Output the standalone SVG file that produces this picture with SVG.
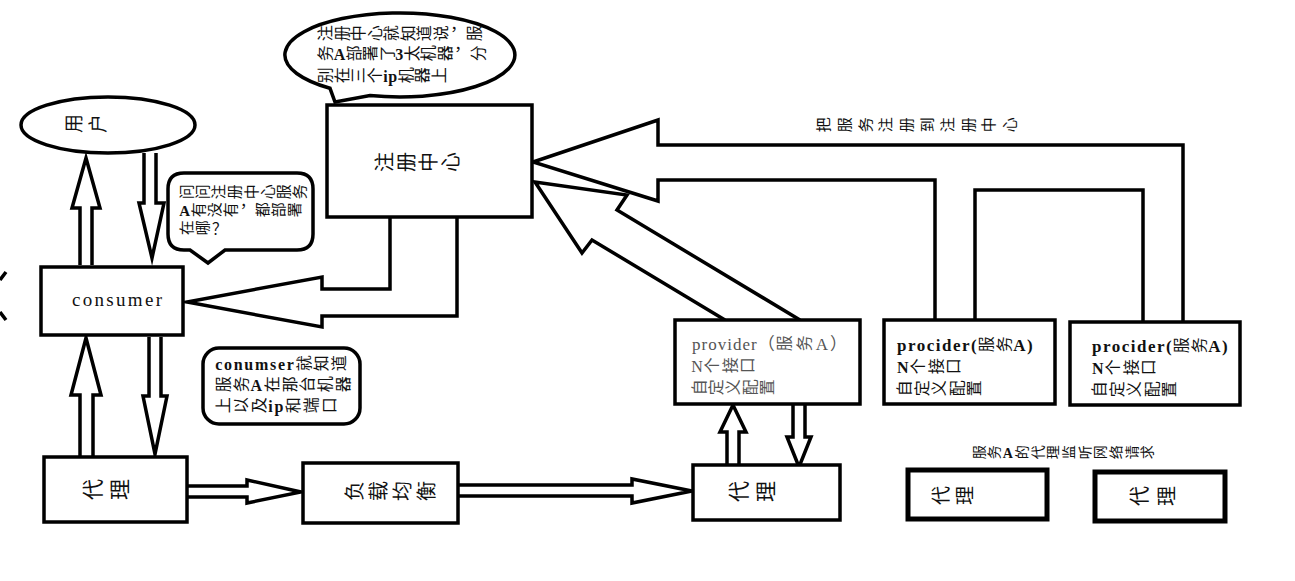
<svg xmlns="http://www.w3.org/2000/svg" width="1295" height="581" viewBox="0 0 1295 581">
<style>
.s{fill:none;stroke:#000;stroke-width:3.5;stroke-linejoin:miter;stroke-miterlimit:10}
.b{fill:#fff;stroke:#000;stroke-width:3.5}
.bt{fill:#fff;stroke:#000;stroke-width:5}
.t{font-family:"Liberation Serif","Noto Sans CJK SC",serif;fill:#111}
.g{fill:#555}
.bd{font-weight:bold}
</style>
<rect width="1295" height="581" fill="#fff"/>

<g id="connectors">
  <polyline class="s" points="80,265 80,208 72,208 86,158 100,208 92,208 92,265"/>
  <polyline class="s" points="144,153 144,203 139,203 152,258 164,203 156,203 156,153"/>
  <polyline class="s" points="80,457 80,395 71,395 86,338 101,395 93,395 93,457"/>
  <polyline class="s" points="149,337 149,396 143,396 155,454 167,396 161,396 161,337"/>
  <polyline class="s" points="187,486 247,486 247,480 301,492 247,503 247,497 187,497"/>
  <polyline class="s" points="458,485 632,485 632,479 692,491 632,503 632,496 458,496"/>
  <polyline class="s" points="727,465 727,432 720,432 733,405 746,432 739,432 739,465"/>
  <polyline class="s" points="793,405 793,437 787,437 799,467 811,437 805,437 805,405"/>
  <polyline class="s" points="390,217 390,289 322,289 322,277 187,302 322,327 322,316 457,316 457,217"/>
  <polyline class="s" points="1183,322 1183,145 658,145 658,120 533,162 658,201 658,180 935,180 935,320"/>
  <polyline class="s" points="975,320 975,190 1143,190 1143,322"/>
  <polyline class="s" points="725,320 592,240 582,253 535,182 627,195 617,210 800,320"/>
  <text class="t" font-size="15" letter-spacing="5.6" x="829.5" y="132.3" rotate="-90">把服务注册到注册中心</text>
</g>

<g id="fragment">
  <path class="s" d="M0,280 L6,272 M0,312 L6,320" stroke-width="3"/>
</g>

<g id="user">
  <ellipse class="b" cx="108" cy="125" rx="87" ry="28"/>
  <text class="t" font-size="19" letter-spacing="5" x="80.8" y="133" rotate="-90">用户</text>
</g>

<g id="note-registry">
  <path class="b" d="M330,88.3 A115,42 0 1,1 370,95.5 L335,102 Z"/>
  <text class="t" font-size="16" letter-spacing="0.5" x="331.3"><tspan y="41.2" rotate="-90">注册中心就知道说</tspan><tspan dx="-13.3" y="30" rotate="0">，</tspan><tspan dx="13.3" y="41.2" rotate="-90">服</tspan></text>
  <text class="t" font-size="16" letter-spacing="0.5" x="317.2"><tspan dx="14.1" y="61.2" rotate="-90">务</tspan><tspan dx="-14.1" y="59.6" rotate="0" class="bd">A</tspan><tspan dx="14.1" y="61.2" rotate="-90">部署了</tspan><tspan dx="-14.1" y="59.6" rotate="0" class="bd">3</tspan><tspan dx="14.1" y="61.2" rotate="-90">太机器</tspan><tspan dx="-13.3" y="50" rotate="0">，</tspan><tspan dx="13.3" y="61.2" rotate="-90">分</tspan></text>
  <text class="t" font-size="16" letter-spacing="0.5" x="317.2"><tspan dx="14.1" y="83.2" rotate="-90">别在三个</tspan><tspan dx="-14.1" y="81.6" rotate="0" class="bd">ip</tspan><tspan dx="14.1" y="83.2" rotate="-90">机器上</tspan></text>
</g>

<g id="registry">
  <rect class="b" x="327" y="105" width="205" height="112"/>
  <text class="t" font-size="20" letter-spacing="2" x="391.6" y="172" rotate="-90">注册中心</text>
</g>

<g id="note-ask">
  <path class="b" d="M184,173 H297 Q313,173 313,189 V234 Q313,250 297,250 H225 L208,263 L190,250 H184 Q168,250 168,234 V189 Q168,173 184,173 Z"/>
  <text class="t" font-size="15" letter-spacing="1" x="192.45" y="199.25" rotate="-90">问问注册中心服务</text>
  <text class="t" font-size="15" letter-spacing="1" x="179.25"><tspan y="215.75" rotate="0" class="bd">A</tspan><tspan dx="13.2" y="217.25" rotate="-90">有没有</tspan><tspan dx="-12.45" y="206.75" rotate="0">，</tspan><tspan dx="12.45" y="217.25" rotate="-90">都部署</tspan></text>
  <text class="t" font-size="15" letter-spacing="1" x="192.45"><tspan y="235.25" rotate="-90">在哪</tspan><tspan dx="-12.45" y="234.2" rotate="0">？</tspan></text>
</g>

<g id="consumer">
  <rect class="b" x="41" y="267" width="142" height="68"/>
  <text class="t" font-size="19" letter-spacing="2.3" x="72" y="306">consumer</text>
</g>

<g id="note-consumer">
  <rect class="b" x="203" y="348" width="157" height="76" rx="16"/>
  <text class="t" font-size="16" letter-spacing="1.7" x="215.2"><tspan y="369.6" rotate="0" class="bd">conumser</tspan><tspan dx="14.1" y="371.2" rotate="-90">就知道</tspan></text>
  <text class="t" font-size="16" letter-spacing="1.7" x="215.2"><tspan dx="14.1" y="392.2" rotate="-90">服务</tspan><tspan dx="-14.1" y="390.6" rotate="0" class="bd">A</tspan><tspan dx="14.1" y="392.2" rotate="-90">在那台机器</tspan></text>
  <text class="t" font-size="16" letter-spacing="1.7" x="215.2"><tspan dx="14.1" y="413.2" rotate="-90">上以及</tspan><tspan dx="-14.1" y="411.6" rotate="0" class="bd">ip</tspan><tspan dx="14.1" y="413.2" rotate="-90">和端口</tspan></text>
</g>

<g id="proxy-consumer">
  <rect class="b" x="44" y="457" width="143" height="65"/>
  <text class="t" font-size="21" letter-spacing="6" x="100.4" y="500" rotate="-90">代理</text>
</g>

<g id="load-balance">
  <rect class="b" x="303" y="463" width="155" height="60"/>
  <text class="t" font-size="20" letter-spacing="4" x="361.6" y="501" rotate="-90">负载均衡</text>
</g>

<g id="proxy-provider">
  <rect class="b" x="693" y="465" width="147" height="55"/>
  <text class="t" font-size="21" letter-spacing="6" x="746.4" y="502" rotate="-90">代理</text>
</g>

<g id="provider">
  <rect class="b" x="675" y="320" width="185" height="84"/>
  <text class="t g" font-size="17" letter-spacing="1" x="692"><tspan y="349.6" rotate="0">provider</tspan><tspan y="349.6" rotate="0">（</tspan><tspan dx="14.1" y="351.2" rotate="-90" font-size="16" letter-spacing="4">服务</tspan><tspan dx="-14.1" y="349.6" rotate="0" letter-spacing="2">A）</tspan></text>
  <text class="t g" font-size="16" letter-spacing="1.5" x="691.2"><tspan y="371.6" rotate="0">N</tspan><tspan dx="14.1" y="373.2" rotate="-90">个接口</tspan></text>
  <text class="t g" font-size="16" letter-spacing="1" x="705.3" y="395.2" rotate="-90">自定义配置</text>
</g>

<g id="procider-1">
  <rect class="b" x="884" y="320" width="171" height="84"/>
  <text class="t" font-size="17" letter-spacing="1.5" x="897"><tspan y="350.6" rotate="0" class="bd">procider(</tspan><tspan dx="14.1" y="352.2" rotate="-90" font-size="16">服务</tspan><tspan dx="-14.1" y="350.6" rotate="0" class="bd">A)</tspan></text>
  <text class="t" font-size="16" letter-spacing="1.5" x="897"><tspan y="372.6" rotate="0" class="bd">N</tspan><tspan dx="14.1" y="374.2" rotate="-90">个接口</tspan></text>
  <text class="t" font-size="16" letter-spacing="1.5" x="910.3" y="396.2" rotate="-90">自定义配置</text>
</g>

<g id="procider-2">
  <rect class="b" x="1070" y="322" width="170" height="83"/>
  <text class="t" font-size="17" letter-spacing="1.5" x="1092"><tspan y="351.6" rotate="0" class="bd">procider(</tspan><tspan dx="14.1" y="353.2" rotate="-90" font-size="16">服务</tspan><tspan dx="-14.1" y="351.6" rotate="0" class="bd">A)</tspan></text>
  <text class="t" font-size="16" letter-spacing="1.5" x="1092"><tspan y="373.6" rotate="0" class="bd">N</tspan><tspan dx="14.1" y="375.2" rotate="-90">个接口</tspan></text>
  <text class="t" font-size="16" letter-spacing="1.5" x="1105.3" y="397.2" rotate="-90">自定义配置</text>
</g>

<g id="proxy-label">
  <text class="t" font-size="14" letter-spacing="1.7" x="971.3"><tspan dx="12.3" y="459.3" rotate="-90">服务</tspan><tspan dx="-12.3" y="457.9" rotate="0" class="bd">A</tspan><tspan dx="12.3" y="459.3" rotate="-90">的代理监听网络请求</tspan></text>
</g>

<g id="proxy-2">
  <rect class="bt" x="908" y="470" width="139" height="49"/>
  <text class="t" font-size="19" letter-spacing="5" x="947.8" y="505" rotate="-90">代理</text>
</g>

<g id="proxy-3">
  <rect class="bt" x="1095" y="472" width="130" height="49"/>
  <text class="t" font-size="20" letter-spacing="7" x="1146.6" y="506" rotate="-90">代理</text>
</g>
</svg>
